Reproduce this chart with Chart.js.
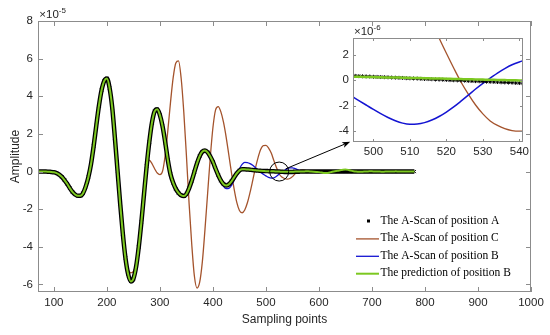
<!DOCTYPE html>
<html>
<head>
<meta charset="utf-8">
<script src="https://cdn.jsdelivr.net/npm/chart.js@4.4.0/dist/chart.umd.min.js"></script>
<style>
  body { margin: 0; background: #fff; }
  #wrap { position: relative; width: 550px; height: 335px; }
  canvas { position: absolute; top: 0; }
</style>
</head>
<body>
<div id="wrap">
  <canvas id="main" width="550" height="335" style="left:0"></canvas>
  <canvas id="inset" width="240" height="170" style="left:300px"></canvas>
</div>
<script>
// ===== main plot data (amplitude x 1e-5) =====
const sampleX = [
  70, 75, 80, 85, 90, 95, 100, 105, 110, 115,
  120, 125, 130, 135, 140, 145, 150, 155, 160, 165,
  170, 175, 180, 185, 190, 195, 200, 205, 210, 215,
  220, 225, 230, 235, 240, 245, 250, 255, 260, 265,
  270, 275, 280, 285, 290, 295, 300, 305, 310, 315,
  320, 325, 330, 335, 340, 345, 350, 355, 360, 365,
  370, 375, 380, 385, 390, 395, 400, 405, 410, 415,
  420, 425, 430, 435, 440, 445, 450, 455, 460, 465,
  470, 475, 480, 485, 490, 495, 500, 505, 510, 515,
  520, 525, 530, 535, 540, 545, 550, 555, 560, 565,
  570, 575, 580, 585, 590, 595, 600, 605, 610, 615,
  620, 625, 630, 635, 640, 645, 650, 655, 660, 665,
  670, 675, 680, 685, 690, 695, 700, 705, 710, 715,
  720, 725, 730, 735, 740, 745, 750, 755, 760, 765,
  770, 775, 780
];

const scanA = [
  0, 0, 0, 0, -0.01, -0.02, -0.04, -0.08, -0.16, -0.28,
  -0.45, -0.65, -0.88, -1.08, -1.22, -1.29, -1.29, -1.15, -0.8, -0.3,
  0.4, 1.35, 2.45, 3.5, 4.33, 4.82, 4.94, 4.45, 3.4, 1.8,
  0.05, -1.7, -3.3, -4.6, -5.45, -5.84, -5.69, -5.07, -4.02, -2.69,
  -1.19, 0.29, 1.58, 2.6, 3.2, 3.31, 3.0, 2.4, 1.55, 0.6,
  -0.15, -0.6, -0.92, -1.13, -1.26, -1.3, -1.19, -0.89, -0.49, -0.02,
  0.44, 0.82, 1.06, 1.12, 1.02, 0.8, 0.51, 0.15, -0.19, -0.48,
  -0.67, -0.74, -0.68, -0.52, -0.31, -0.1, 0.06, 0.12, 0.12, 0.11,
  0.1, 0.08, 0.07, 0.05, 0.04, 0.03, 0.03, 0.02, 0.01, 0.01,
  0, 0, -0.01, -0.02, -0.02, -0.02, -0.02, -0.01, -0.01, 0,
  0, 0, 0, 0, 0, 0, 0, 0, 0, 0,
  0, 0, 0, 0, 0, 0, 0, 0, 0, 0,
  0, 0, 0, 0, 0, 0, 0, 0, 0, 0,
  0, 0, 0, 0, 0, 0, 0, 0, 0, 0,
  0, 0, 0
];

const scanC = [
  0, 0, 0, 0, -0.01, -0.02, -0.04, -0.08, -0.16, -0.28,
  -0.45, -0.65, -0.88, -1.08, -1.22, -1.29, -1.29, -1.15, -0.8, -0.3,
  0.4, 1.35, 2.45, 3.5, 4.33, 4.82, 4.94, 4.45, 3.4, 1.8,
  0.05, -1.7, -3.3, -4.55, -5.2, -5.38, -5.3, -4.9, -4.0, -2.75,
  -1.3, 0.2, 0.6, 0.42, 0.15, -0.08, -0.16, 0.02, 0.88, 2.2,
  3.69, 4.99, 5.77, 5.88, 4.97, 3.17, 0.84, -1.69, -3.85, -5.55,
  -6.19, -5.88, -4.8, -3.07, -1.15, 0.76, 2.34, 3.28, 3.45, 3.17,
  2.61, 1.82, 0.88, -0.07, -0.93, -1.64, -2.07, -2.19, -2.04, -1.66,
  -1.11, -0.48, 0.17, 0.73, 1.17, 1.38, 1.39, 1.25, 0.98, 0.58,
  0.2, -0.13, -0.29, -0.37, -0.4, -0.37, -0.27, -0.12, 0, 0.06,
  0.07, 0.05, 0.02, 0, 0, 0, 0, 0, 0, 0,
  0, 0, 0, 0, 0, 0, 0, 0, 0, 0,
  0, 0, 0, 0, 0, 0, 0, 0, 0, 0,
  0, 0, 0, 0, 0, 0, 0, 0, 0, 0,
  0, 0, 0
];

const scanB = [
  0, 0, 0, 0, -0.01, -0.02, -0.04, -0.08, -0.16, -0.28,
  -0.45, -0.65, -0.88, -1.08, -1.22, -1.29, -1.29, -1.15, -0.8, -0.3,
  0.4, 1.35, 2.45, 3.5, 4.33, 4.82, 4.94, 4.45, 3.4, 1.8,
  0.05, -1.7, -3.3, -4.6, -5.45, -5.84, -5.69, -5.07, -4.02, -2.69,
  -1.19, 0.29, 1.58, 2.6, 3.2, 3.31, 3.0, 2.4, 1.55, 0.6,
  -0.15, -0.6, -0.92, -1.13, -1.26, -1.3, -1.19, -0.89, -0.49, -0.02,
  0.44, 0.82, 1.06, 1.12, 1.02, 0.81, 0.49, 0.14, -0.23, -0.55,
  -0.79, -0.91, -0.89, -0.74, -0.46, -0.15, 0.15, 0.38, 0.49, 0.48,
  0.42, 0.33, 0.21, 0.08, -0.05, -0.14, -0.23, -0.31, -0.35, -0.33,
  -0.25, -0.13, -0.03, 0.06, 0.14, 0.19, 0.2, 0.16, 0.1, 0.04,
  0, -0.02, -0.02, -0.01, 0, 0, 0, 0, 0, 0,
  0, 0, 0, 0, 0, 0, 0, 0, 0, 0,
  0, 0, 0, 0, 0, 0, 0, 0, 0, 0,
  0, 0, 0, 0, 0, 0, 0, 0, 0, 0,
  0, 0, 0
];

const predB = [
  0, 0, 0, 0, -0.01, -0.02, -0.04, -0.08, -0.16, -0.28,
  -0.45, -0.65, -0.88, -1.08, -1.22, -1.29, -1.29, -1.15, -0.8, -0.3,
  0.4, 1.35, 2.45, 3.5, 4.33, 4.82, 4.94, 4.45, 3.4, 1.8,
  0.05, -1.7, -3.3, -4.6, -5.45, -5.84, -5.69, -5.07, -4.02, -2.69,
  -1.19, 0.29, 1.58, 2.6, 3.2, 3.31, 3.0, 2.4, 1.55, 0.6,
  -0.15, -0.6, -0.92, -1.13, -1.26, -1.3, -1.19, -0.89, -0.49, -0.02,
  0.44, 0.82, 1.06, 1.12, 1.02, 0.8, 0.51, 0.15, -0.19, -0.48,
  -0.67, -0.74, -0.68, -0.52, -0.31, -0.1, 0.06, 0.12, 0.12, 0.11,
  0.1, 0.08, 0.07, 0.05, 0.04, 0.03, 0.02, 0.02, 0.01, 0.01,
  0, 0, -0.01, -0.01, -0.01, -0.01, -0.01, 0, 0, 0,
  0, 0.01, 0.01, 0, -0.01, -0.02, -0.03, -0.05, -0.08, -0.08,
  -0.05, -0.01, 0.02, 0.04, 0.07, 0.1, 0.11, 0.09, 0.05, 0.02,
  0, -0.01, -0.01, 0, 0, 0.01, 0.01, 0, 0, 0,
  -0.01, 0, 0, 0, 0, 0.01, 0, 0, 0, 0,
  0, 0, 0
];

// ===== zoomed inset data (amplitude x 1e-6) =====
const insetX = [
  494, 495, 496, 497, 498, 499, 500, 501, 502, 503,
  504, 505, 506, 507, 508, 509, 510, 511, 512, 513,
  514, 515, 516, 517, 518, 519, 520, 521, 522, 523,
  524, 525, 526, 527, 528, 529, 530, 531, 532, 533,
  534, 535, 536, 537, 538, 539, 540, 541
];
const insetA = [
  0.34, 0.33, 0.31, 0.30, 0.29, 0.28, 0.26, 0.25, 0.24, 0.23,
  0.22, 0.20, 0.19, 0.18, 0.17, 0.15, 0.14, 0.13, 0.12, 0.10,
  0.09, 0.08, 0.07, 0.05, 0.04, 0.03, 0.02, 0.00, -0.01, -0.02,
  -0.03, -0.04, -0.06, -0.07, -0.08, -0.09, -0.11, -0.12, -0.13, -0.14,
  -0.15, -0.17, -0.18, -0.19, -0.20, -0.22, -0.23, -0.24
];

const insetLineX = [
  494, 496, 498, 500, 502, 504, 506, 508, 510, 512,
  514, 516, 518, 520, 522, 524, 526, 528, 530, 532,
  534, 536, 538, 540, 542
];
const insetC = [
  null, null, null, null, null, null, null, null, null, 7.2,
  5.9, 4.6, 3.3, 2.1, 0.95, -0.15, -1.1, -1.95, -2.65, -3.2,
  -3.55, -3.8, -3.95, -4.0, -4.0
];
const insetB = [
  -1.25, -1.6, -1.95, -2.3, -2.63, -2.93, -3.18, -3.37, -3.46, -3.44,
  -3.33, -3.13, -2.85, -2.5, -2.1, -1.65, -1.18, -0.7, -0.25, 0.15,
  0.55, 0.9, 1.2, 1.42, 1.6
];
const insetPred = [
  0.27, 0.26, 0.25, 0.24, 0.22, 0.21, 0.2, 0.19, 0.17, 0.16,
  0.15, 0.13, 0.12, 0.11, 0.09, 0.08, 0.07, 0.05, 0.04, 0.03,
  0.01, 0, -0.01, -0.03, -0.04
];

const seriesNames = [
  'The A-Scan of position A',
  'The A-Scan of position C',
  'The A-Scan of position B',
  'The prediction of position B'
];

const colA = '#000000';
const colC = '#a4532c';
const colB = '#1414d2';
const colP = '#7cc820';
const axisCol = '#8c8c8c';
const textCol = '#262626';

Chart.defaults.font.family = '"Liberation Sans", Arial, sans-serif';
Chart.defaults.color = textCol;

const pts = (xs, ys) => xs.map((x, i) => ({ x: x, y: ys[i] }));

// matlab style box with inward ticks on all four sides + the x10^n label
const frame = {
    id: 'frame',
    afterDatasetsDraw(chart, args, opts) {
        const { ctx, chartArea: a, scales } = chart;
        const len = opts.len;
        ctx.save();
        ctx.strokeStyle = axisCol;
        ctx.lineWidth = 1;
        ctx.beginPath();
        scales.x.ticks.forEach(t => {
            const px = Math.round(scales.x.getPixelForValue(t.value)) + 0.5;
            ctx.moveTo(px, a.bottom); ctx.lineTo(px, a.bottom - len);
            ctx.moveTo(px, a.top); ctx.lineTo(px, a.top + len);
        });
        scales.y.ticks.forEach(t => {
            const py = Math.round(scales.y.getPixelForValue(t.value)) + 0.5;
            ctx.moveTo(a.left, py); ctx.lineTo(a.left + len, py);
            ctx.moveTo(a.right, py); ctx.lineTo(a.right - len, py);
        });
        ctx.stroke();
        ctx.strokeRect(Math.round(a.left) + 0.5, Math.round(a.top) + 0.5,
                       Math.round(a.width) - 1, Math.round(a.height) - 1);

        ctx.fillStyle = textCol;
        ctx.textBaseline = 'alphabetic';
        ctx.textAlign = 'left';
        ctx.font = '11.5px "Liberation Sans"';
        const bx = a.left + opts.expDx, by = a.top - opts.expDy;
        ctx.fillText('\u00d710', bx, by);
        const w = ctx.measureText('\u00d710').width;
        ctx.font = '8px "Liberation Sans"';
        ctx.fillText(opts.exp, bx + w, by - 5.5);
        ctx.restore();
    }
};

// white paper under the inset axes
const paper = {
    id: 'paper',
    beforeDatasetsDraw(chart) {
        const { ctx, chartArea: a } = chart;
        ctx.save();
        ctx.fillStyle = '#fff';
        ctx.fillRect(a.left, a.top, a.width, a.height);
        ctx.restore();
    }
};

// circle + arrow to the inset, and the legend
const notes = {
    id: 'notes',
    afterDraw(chart) {
        const { ctx, chartArea: a, scales: { x, y } } = chart;
        ctx.save();
        const cx = x.getPixelForValue(525), cy = y.getPixelForValue(0);
        ctx.strokeStyle = '#000';
        ctx.lineWidth = 1;
        ctx.beginPath();
        ctx.arc(cx, cy, 9.5, 0, Math.PI * 2);
        ctx.stroke();

        const tx = x.getPixelForValue(659), ty = y.getPixelForValue(1.58);
        const ang = Math.atan2(ty - cy, tx - cx);
        const c = Math.cos(ang), s = Math.sin(ang);
        ctx.beginPath();
        ctx.moveTo(cx + 7 * c, cy + 7 * s);
        ctx.lineTo(tx - 6 * c, ty - 6 * s);
        ctx.stroke();
        ctx.beginPath();
        ctx.moveTo(tx, ty);
        ctx.lineTo(tx - 8 * c + 3 * s, ty - 8 * s - 3 * c);
        ctx.lineTo(tx - 6 * c, ty - 6 * s);
        ctx.lineTo(tx - 8 * c - 3 * s, ty - 8 * s + 3 * c);
        ctx.closePath();
        ctx.fillStyle = '#000';
        ctx.fill();

        // legend
        const lx = a.right - 175, ly = a.bottom - 71, gap = 17.4;
        ctx.font = '11.5px "Liberation Serif"';
        ctx.textBaseline = 'middle';
        ctx.textAlign = 'left';
        chart.data.datasets.forEach((ds, i) => {
            const yy = ly + i * gap;
            if (i === 0) {
                ctx.fillStyle = colA;
                ctx.fillRect(lx + 11, yy - 1.5, 3, 3);
            } else {
                ctx.strokeStyle = ds.borderColor;
                ctx.lineWidth = ds.borderWidth;
                ctx.beginPath();
                ctx.moveTo(lx, yy + 0.5);
                ctx.lineTo(lx + 23, yy + 0.5);
                ctx.stroke();
            }
            ctx.fillStyle = '#000';
            ctx.fillText(ds.label, lx + 24.5, yy);
        });
        ctx.restore();
    }
};

const tickFont = { size: 11.5 };

new Chart(document.getElementById('main'), {
    type: 'line',
    data: {
        datasets: [
            {
                // dense markers in the source merge into a thick dark band
                label: seriesNames[0],
                data: pts(sampleX, scanA),
                showLine: true,
                borderColor: colA,
                borderWidth: 4.5,
                cubicInterpolationMode: 'monotone',
                pointStyle: 'crossRot',
                pointRadius: 2.2,
                pointBorderWidth: 1,
                order: 1
            },
            {
                label: seriesNames[1],
                data: pts(sampleX, scanC),
                borderColor: colC,
                borderWidth: 1.3,
                pointRadius: 0,
                cubicInterpolationMode: 'monotone',
                order: 3
            },
            {
                label: seriesNames[2],
                data: pts(sampleX, scanB),
                borderColor: colB,
                borderWidth: 1.3,
                pointRadius: 0,
                cubicInterpolationMode: 'monotone',
                order: 2
            },
            {
                label: seriesNames[3],
                data: pts(sampleX, predB),
                borderColor: colP,
                borderWidth: 2,
                pointRadius: 0,
                cubicInterpolationMode: 'monotone',
                order: 0
            }
        ]
    },
    options: {
        responsive: false,
        animation: false,
        events: [],
        layout: { padding: { top: 21, right: 19, left: 0, bottom: 0 } },
        plugins: {
            legend: { display: false },
            tooltip: { enabled: false },
            frame: { len: 5, exp: '-5', expDx: 1.3, expDy: 2.7 }
        },
        scales: {
            x: {
                type: 'linear',
                min: 70,
                max: 1000,
                grid: { display: false, drawTicks: false },
                border: { display: false },
                ticks: { stepSize: 100, includeBounds: false, autoSkip: false, maxRotation: 0,
                         padding: 4, font: tickFont, callback: v => String(v) },
                title: { display: true, text: 'Sampling points', font: { size: 12 },
                         padding: { top: 0, bottom: 8 } },
                afterFit: s => { s.height = 43; s.paddingLeft = 0; s.paddingRight = 0; }
            },
            y: {
                min: -6.4,
                max: 8,
                grid: { display: false, drawTicks: false },
                border: { display: false },
                ticks: { stepSize: 2, includeBounds: false, autoSkip: false,
                         padding: 5, font: tickFont, callback: v => String(v) },
                title: { display: true, text: 'Amplitude', font: { size: 12 },
                         padding: { top: 8, bottom: 0 } },
                afterFit: s => { s.width = 38; s.paddingTop = 0; s.paddingBottom = 0; }
            }
        }
    },
    plugins: [frame, notes]
});

new Chart(document.getElementById('inset'), {
    type: 'line',
    data: {
        datasets: [
            {
                label: seriesNames[0],
                data: pts(insetX, insetA),
                showLine: false,
                pointStyle: 'star',
                pointRadius: 2,
                borderColor: colA,
                borderWidth: 1,
                order: 1
            },
            {
                label: seriesNames[1],
                data: pts(insetLineX, insetC),
                borderColor: colC,
                borderWidth: 1.3,
                pointRadius: 0,
                cubicInterpolationMode: 'monotone',
                order: 3
            },
            {
                label: seriesNames[2],
                data: pts(insetLineX, insetB),
                borderColor: colB,
                borderWidth: 1.5,
                pointRadius: 0,
                cubicInterpolationMode: 'monotone',
                order: 2
            },
            {
                label: seriesNames[3],
                data: pts(insetLineX, insetPred),
                borderColor: colP,
                borderWidth: 2.5,
                pointRadius: 0,
                cubicInterpolationMode: 'monotone',
                order: 0
            }
        ]
    },
    options: {
        responsive: false,
        animation: false,
        events: [],
        layout: { padding: { top: 38, right: 17, left: 0, bottom: 0 } },
        plugins: {
            legend: { display: false },
            tooltip: { enabled: false },
            frame: { len: 3, exp: '-6', expDx: 1, expDy: 3 }
        },
        scales: {
            x: {
                type: 'linear',
                min: 494.4,
                max: 541,
                grid: { display: false, drawTicks: false },
                border: { display: false },
                ticks: { stepSize: 10, includeBounds: false, autoSkip: false, maxRotation: 0,
                         padding: 3, font: tickFont, callback: v => String(v) },
                afterFit: s => { s.height = 28; s.paddingLeft = 0; s.paddingRight = 0; }
            },
            y: {
                min: -4.85,
                max: 3.3,
                grid: { display: false, drawTicks: false },
                border: { display: false },
                ticks: { stepSize: 2, includeBounds: false, autoSkip: false,
                         padding: 4, font: tickFont, callback: v => String(v) },
                afterFit: s => { s.width = 53; s.paddingTop = 0; s.paddingBottom = 0; }
            }
        }
    },
    plugins: [paper, frame]
});
</script>
</body>
</html>
